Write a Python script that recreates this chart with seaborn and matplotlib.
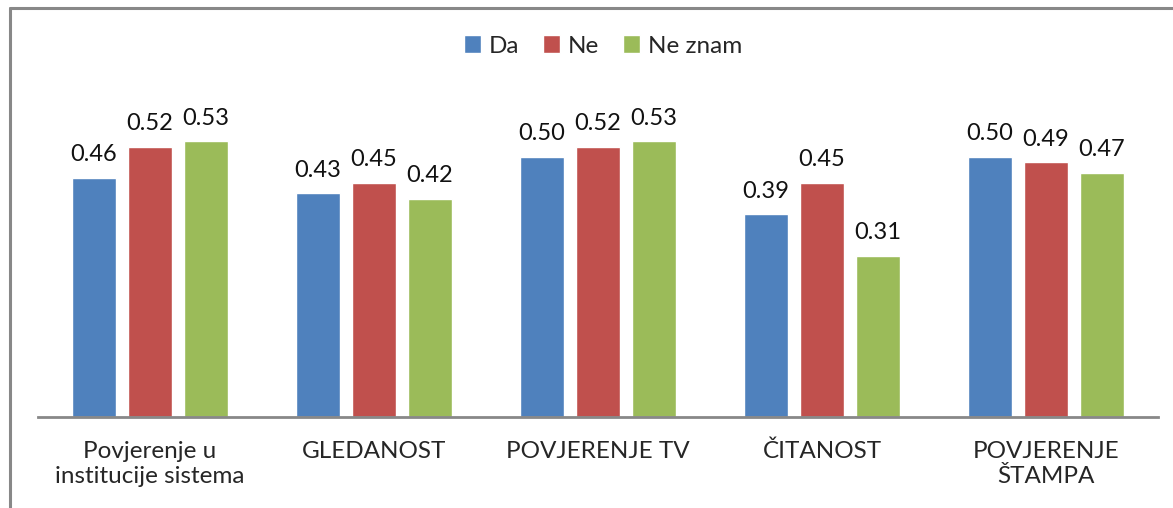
import matplotlib
matplotlib.use("Agg")
import matplotlib.pyplot as plt
import pandas as pd
import seaborn as sns
from matplotlib.lines import Line2D

categories = ["Povjerenje u\ninstitucije sistema", "GLEDANOST", "POVJERENJE TV",
              "ČITANOST", "POVJERENJE\nŠTAMPA"]
series = ["Da", "Ne", "Ne znam"]
da = [0.46, 0.43, 0.50, 0.39, 0.50]
ne = [0.52, 0.45, 0.52, 0.45, 0.49]
ne_znam = [0.53, 0.42, 0.53, 0.31, 0.47]
colors = ["#4F81BD", "#C0504D", "#9BBB59"]

df = pd.DataFrame({
    "kategorija": categories * 3,
    "odgovor": [s for s in series for _ in categories],
    "vrijednost": da + ne + ne_znam,
})

sns.set_style("white")
plt.rcParams["font.family"] = ["Lato", "DejaVu Sans"]

W, H = 1173, 508
fig = plt.figure(figsize=(W / 100, H / 100), dpi=100)
ax = fig.add_axes([38 / W, (H - 417) / H, (1158 - 38) / W, (417 - 105) / H])

sns.barplot(data=df, x="kategorija", y="vrijednost", hue="odgovor",
            palette=colors, width=0.75, gap=0.2, ax=ax, errorbar=None,
            saturation=1)

for c in ax.containers:
    ax.bar_label(c, fmt="%.2f", padding=9, fontsize=17, color="#111111")

ax.set_xlim(-0.5, 4.5)
ax.set_ylim(0, 0.6)
ax.set_xlabel("")
ax.set_ylabel("")
ax.set_yticks([])
ax.tick_params(axis="x", length=0, labelsize=17.5, pad=17)
for lbl in ax.get_xticklabels():
    lbl.set_linespacing(1.25)
for s in ["top", "right", "left"]:
    ax.spines[s].set_visible(False)
ax.spines["bottom"].set_color("#888888")
ax.spines["bottom"].set_linewidth(2)

handles, labels = ax.get_legend_handles_labels()
ax.legend(handles, labels, loc="center", bbox_to_anchor=(603 / W, 1 - 46 / H),
          bbox_transform=fig.transFigure, ncol=3, frameon=False, fontsize=17.5,
          handlelength=0.7, handleheight=0.7, handletextpad=0.3, columnspacing=1.0)

# outer frame (left and top edges)
fig.add_artist(Line2D([10 / W, 10 / W], [0, 1 - 8 / H], color="#888888", lw=2.2,
                      transform=fig.transFigure))
fig.add_artist(Line2D([10 / W, 1], [1 - 8 / H, 1 - 8 / H], color="#888888", lw=2.2,
                      transform=fig.transFigure))

fig.savefig("out.png", dpi=100)
